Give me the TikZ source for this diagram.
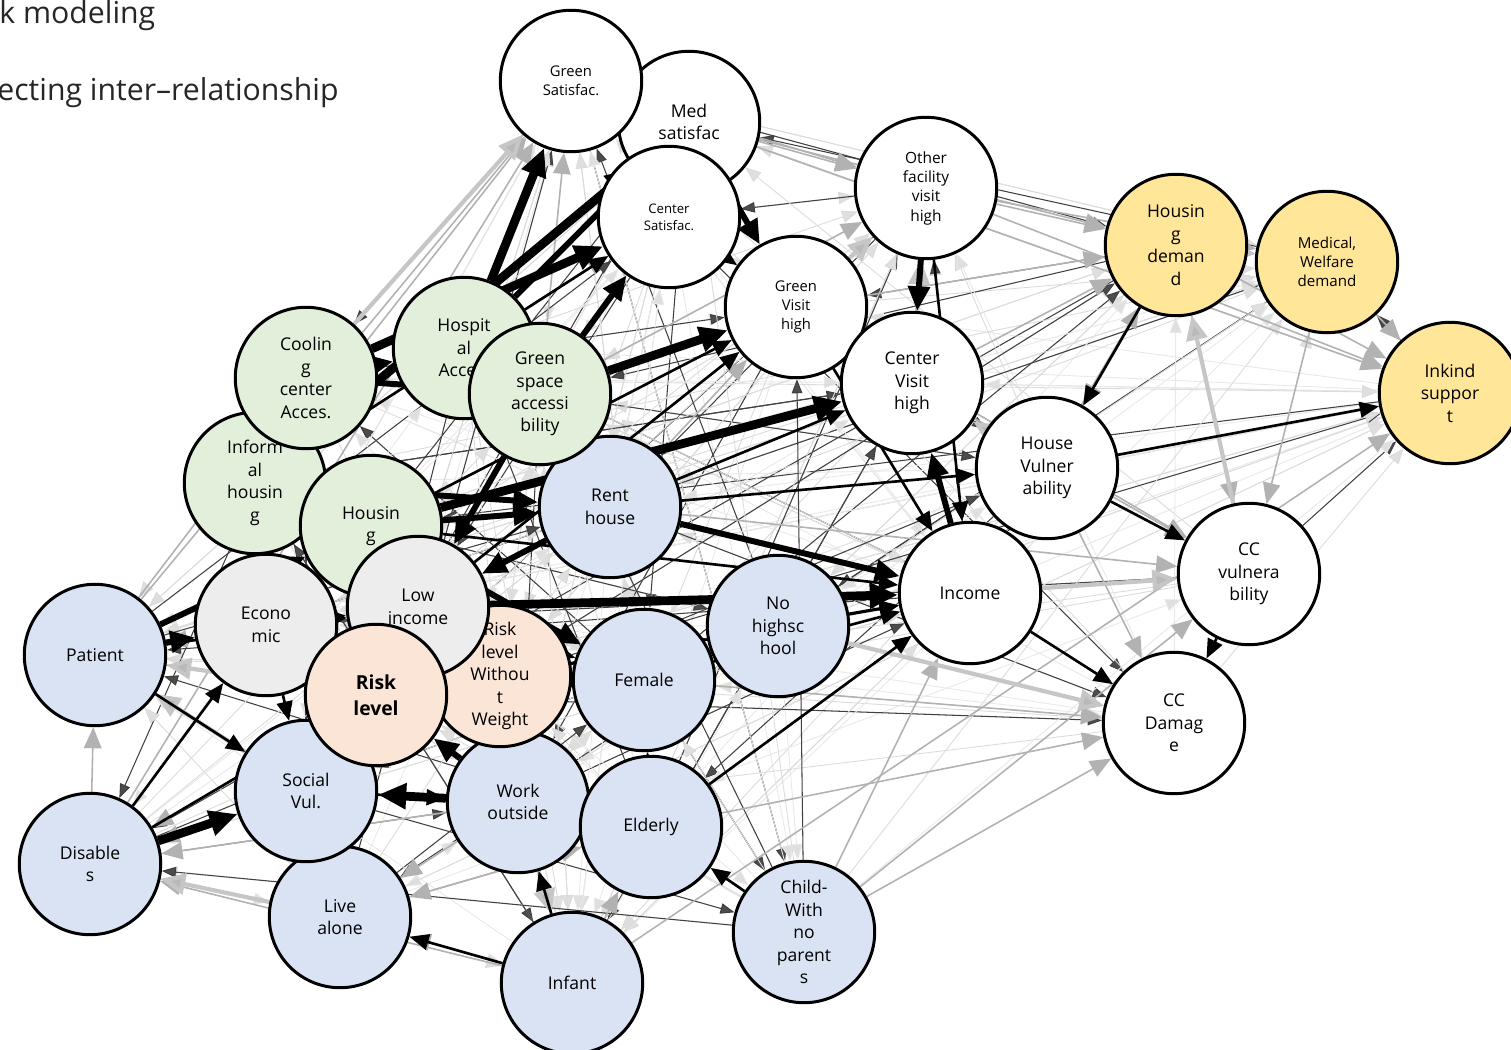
\documentclass[tikz,border=0pt]{standalone}
\usepackage{fontspec}
\setmainfont{Open Sans}
\usetikzlibrary{arrows.meta,backgrounds}
\definecolor{cgreen}{HTML}{E2EFDA}
\definecolor{cblue}{HTML}{DAE3F3}
\definecolor{cgrey}{HTML}{EDEDED}
\definecolor{cpeach}{HTML}{FBE5D6}
\definecolor{cyellow}{HTML}{FFE699}
\tikzset{
  nd/.style={circle,draw=black,line width=1.7pt,minimum size=80.5pt,inner sep=0pt,align=center,fill=white,
    font=\fontsize{10}{12.8}\selectfont},
  sm/.style={font=\fontsize{8.4}{10.8}\selectfont},
  xs/.style={font=\fontsize{7.5}{9.5}\selectfont},
  gn/.style={fill=cgreen}, bl/.style={fill=cblue}, gy/.style={fill=cgrey},
  pc/.style={fill=cpeach}, yl/.style={fill=cyellow},
  ttl/.style={anchor=base west,inner sep=0pt,text=black!85,font=\fontsize{17.2}{20}\selectfont},
  tkk/.style={draw=black,line width=5pt,-{Triangle[length=16pt,width=14pt]}},
  tk/.style={draw=black,line width=3.4pt,-{Triangle[length=14pt,width=12pt]}},
  md/.style={draw=black,line width=1.5pt,-{Triangle[length=11pt,width=9pt]}},
  th/.style={draw=black!75,line width=0.6pt,-{Triangle[length=8pt,width=6pt,fill=black!70]}},
  gt/.style={draw=gray!45,line width=2.4pt,-{Triangle[length=14pt,width=12pt,fill=gray!55]}},
  gr/.style={draw=gray!60,line width=0.9pt,-{Triangle[length=12pt,width=10pt,fill=gray!60]}},
  fn/.style={draw=gray!28,line width=0.5pt,-{Triangle[length=9pt,width=7pt,fill=gray!25]}},
}
\begin{document}
\begin{tikzpicture}[x=0.02cm,y=-0.02cm]
\useasboundingbox (0,0) rectangle (1511,1050);
\node[ttl] (t1) at (-1,24) {k modeling};
\node[ttl] (t2) at (-3,101) {ecting inter–relationship};
% nodes (drawing order = stacking order)
\node[nd] (med) at (689,122) {Med\\satisfac};
\node[nd,sm] (gsat) at (571,81) {Green\\Satisfac.};
\node[nd,xs] (csat) at (669,217) {Center\\Satisfac.};
\node[nd,sm,font=\fontsize{8.8}{11}\selectfont] (ofv) at (926,188) {Other\\facility\\visit\\high};
\node[nd,sm] (gvis) at (796,307) {Green\\Visit\\high};
\node[nd] (cvis) at (912,383) {Center\\Visit\\high};
\node[nd,yl] (hdem) at (1176,245) {Housin\\g\\deman\\d};
\node[nd,yl,font=\fontsize{8.6}{10.8}\selectfont] (mdem) at (1327,262) {Medical,\\Welfare\\demand};
\node[nd,yl] (ink) at (1450,393) {Inkind\\suppor\\t};
\node[nd] (hvul) at (1047,468) {House\\Vulner\\ability};
\node[nd] (inc) at (970,593) {Income};
\node[nd] (ccv) at (1249,574) {CC\\vulnera\\bility};
\node[nd] (ccd) at (1174,723) {CC\\Damag\\e};
\node[nd,bl] (fem) at (644,680) {Female};
\node[nd,bl] (nohs) at (778,626) {No\\highsc\\hool};
\node[nd,bl] (rent) at (610,507) {Rent\\house};
\node[nd,gn] (hosp) at (464,348) {Hospit\\al\\Acces.};
\node[nd,gn] (gsp) at (540,394) {Green\\space\\accessi\\bility};
\node[nd,gn] (infh) at (255,483) {Inform\\al\\housin\\g};
\node[nd,gn] (cool) at (306,378) {Coolin\\g\\center\\Acces.};
\node[nd,gn] (hsg) at (371,526) {Housin\\g};
\node[nd,gy] (eco) at (266,625) {Econo\\mic};
\node[nd,bl] (work) at (518,802) {Work\\outside};
\node[nd,bl] (eld) at (651,827) {Elderly};
\node[nd,pc] (rlww) at (500,676) {Risk\\level\\Withou\\t\\Weight};
\node[nd,gy] (low) at (418,607) {Low\\income};
\node[nd,bl] (live) at (340,917) {Live\\alone};
\node[nd,bl] (soc) at (306,791) {Social\\Vul.};
\node[nd,pc,font=\fontsize{11}{14.7}\selectfont\bfseries] (risk) at (376,695) {Risk\\level};
\node[nd,bl] (pat) at (95,655) {Patient};
\node[nd,bl] (dis) at (90,864) {Disable\\s};
\node[nd,bl] (infa) at (572,983) {Infant};
\node[nd,bl] (child) at (804,932) {Child-\\With\\no\\parent\\s};
\begin{pgfonlayer}{background}
  % faint web
  \foreach \a [count=\i] in {med,gsat,csat,ofv,gvis,cvis,hdem,mdem,ink,hvul,inc,ccv,ccd,nohs,fem,rent,hosp,gsp,infh,cool,hsg,eco,work,eld,rlww,low,live,soc,risk,pat,dis,infa,child}{
    \foreach \b [count=\j] in {med,gsat,csat,ofv,gvis,cvis,hdem,mdem,ink,hvul,inc,ccv,ccd,nohs,fem,rent,hosp,gsp,infh,cool,hsg,eco,work,eld,rlww,low,live,soc,risk,pat,dis,infa,child}{
      \pgfmathtruncatemacro\k{mod(\i*\i+3*\j,7)}
      \pgfmathtruncatemacro\m{mod(\i*\j+\i,13)}
      \pgfmathtruncatemacro\n{mod(\i*5+\j*\j,11)}
      \ifnum\i=\j\else
        \ifnum\k=0 \draw[fn] (\a) -- (\b);\fi
        \ifnum\n=4 \draw[fn,draw=gray!18] (\a) -- (\b);\fi
        \ifnum\m=3 \draw[th] (\a) -- (\b);\fi
      \fi
    }
  }
  % grey arrows
  \foreach \a/\b in {infh/gsat,cool/gsat,dis/pat,live/dis,infa/eld,child/inc,hdem/ccv,mdem/ccv,mdem/ink,hdem/ink,
      ofv/hdem,cvis/hdem,gvis/hdem,med/ofv,gsat/ofv,med/hdem,ofv/mdem,hdem/mdem,hvul/ccd,nohs/ccd,child/ccd,
      child/ccv,infa/ink,eld/ccd,pat/gsat,soc/dis,work/dis,infa/dis,eld/live,fem/ccd,rent/ccv,gsp/gsat,
      hosp/csat,live/eld,gsat/ink,ofv/ink,cvis/ccv,inc/ccv,gvis/ccv,hdem/hvul,dis/gsat,pat/cool,infa/live,
      work/live,soc/pat,eco/pat,risk/dis,inc/hdem,gsp/ofv,rent/gvis}
    \draw[gr] (\a) -- (\b);
  % thick grey arrows
  \foreach \a/\b in {soc/pat,live/dis,risk/pat,cool/gsat,gvis/ofv,cvis/ofv,hvul/cvis,inc/ccv,nohs/ccd,
      eco/infh,work/infa,fem/eld,hdem/mdem,ccv/hdem}
    \draw[gt] (\a) -- (\b);
  % medium black arrows
  \foreach \a/\b in {hvul/ccv,hvul/ink,eld/inc,ccv/ccd,inc/ccd,nohs/inc,child/eld,infa/live,fem/inc,
      infa/work,rlww/nohs,hdem/hvul,ofv/inc,gvis/inc,hsg/gvis,eco/soc,low/fem,hsg/inc,pat/soc,dis/risk,
      rent/cvis,csat/gvis,gvis/cvis,live/soc,work/eld,fem/nohs,infh/csat,pat/low,dis/eco,soc/work,
      rlww/inc,rent/hvul,eld/fem,low/gvis}
    \draw[md] (\a) -- (\b);
  % thick black arrows
  \foreach \a/\b in {cool/hosp,infh/hsg,hsg/low,rent/low,fem/rlww,rlww/risk,soc/risk,work/risk,
      pat/hsg,infh/eco,gsp/csat,hosp/med,cool/gsp,infh/rent,eco/low,hsg/fem,gsp/low,work/rlww,fem/risk,
      med/gvis,ofv/cvis,inc/cvis,rent/inc,pat/eco,hsg/rent,eco/risk,low/risk}
    \draw[tk] (\a) -- (\b);
  \foreach \a/\b in {hosp/gsat,cool/csat,infh/med,gsp/gvis,hsg/cvis,low/inc,dis/soc,work/soc}
    \draw[tkk] (\a) -- (\b);
\end{pgfonlayer}
\end{tikzpicture}
\end{document}
